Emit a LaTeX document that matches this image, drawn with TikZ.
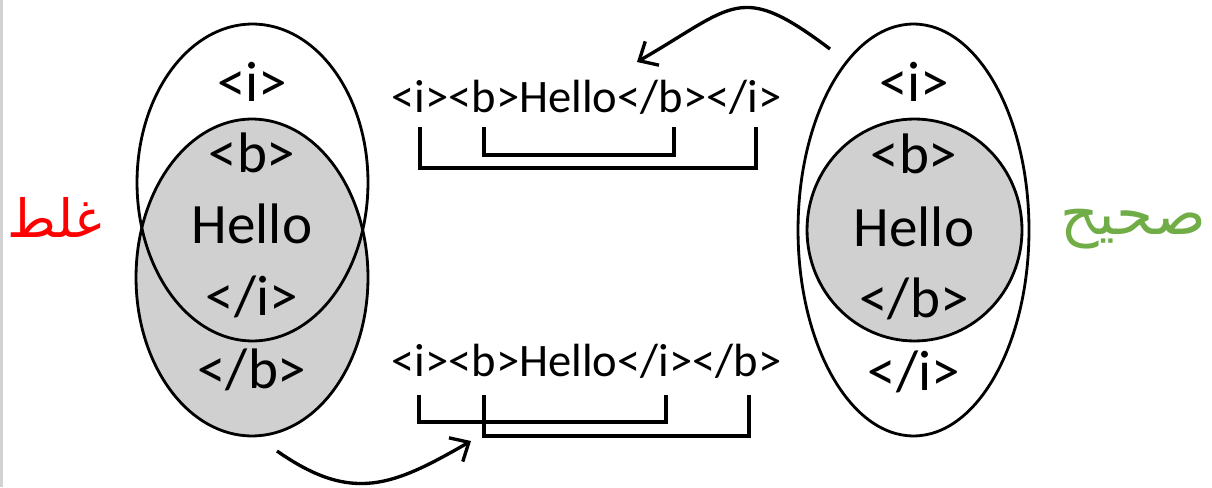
\documentclass[tikz,border=0pt]{standalone}
\usepackage{fontspec}
\setmainfont{Carlito}
\newfontfamily\arabicfont[Script=Arabic]{DejaVu Sans}
\TeXXeTstate=1
\usetikzlibrary{shapes.geometric,arrows.meta}
\definecolor{setgray}{RGB}{208,208,208}
\definecolor{okgreen}{RGB}{112,173,71}
\tikzstyle{set}=[ellipse,
                 draw,
                 line width=1.6pt,
                 inner sep=0pt]
\tikzstyle{tag}=[font=\fontsize{32.5}{36}\selectfont,
                 inner sep=0pt,
                 anchor=base]
\tikzstyle{code}=[font=\fontsize{26.5}{30}\selectfont,
                  inner sep=0pt,
                  anchor=base]
\tikzstyle{pair}=[line width=1.9pt]
\tikzstyle{flow}=[->,line width=1.9pt]
\tikzstyle{verdict}=[font=\fontsize{30}{34}\selectfont\arabicfont,
                     inner sep=0pt,
                     anchor=base]

\begin{document}
\begin{tikzpicture}[x=0.02cm,y=0.02cm,>={Straight Barb[length=3mm,width=5.5mm]}]
\useasboundingbox (0,0) rectangle (1212,487);
\draw[gray!35,line width=0.06cm] (1.5,0) -- (1.5,487);
% wrong nesting
\node (badb) [set,fill=setgray,minimum width=4.64cm,minimum height=6.34cm] at (252,209.5) {};
\node (badi) [set,minimum width=4.62cm,minimum height=6.34cm] at (252.5,304.5) {};
\node (badi1) [tag] at (252,385) {<i>};
\node (badb1) [tag] at (252,314) {<b>};
\node (badhello) [tag] at (252,243) {Hello};
\node (badi2) [tag] at (252,172) {</i>};
\node (badb2) [tag] at (252,99) {</b>};
% right nesting
\node (goodi) [set,minimum width=4.62cm,minimum height=8.24cm] at (913.5,257) {};
\node (goodb) [set,fill=setgray,minimum width=4.30cm,minimum height=4.44cm] at (914.5,257) {};
\node (goodi1) [tag] at (914,385) {<i>};
\node (goodb1) [tag] at (914,313) {<b>};
\node (goodhello) [tag] at (914,240) {Hello};
\node (goodb2) [tag] at (914,170) {</b>};
\node (goodi2) [tag] at (914,97) {</i>};
% code lines
\node (goodcode) [code] at (586.5,374) {<i><b>Hello</b></i>};
\node (badcode) [code] at (586.5,111) {<i><b>Hello</i></b>};
\coordinate (gi1) at (420,360);
\coordinate (gi2) at (756,360);
\coordinate (gb1) at (484,360);
\coordinate (gb2) at (674,360);
\draw[pair] (gi1) -- ++(0,-41) -| (gi2);
\draw[pair] (gb1) -- ++(0,-28) -| (gb2);
\coordinate (bi1) at (419,92);
\coordinate (bi2) at (666,92);
\coordinate (bb1) at (484,92);
\coordinate (bb2) at (749,92);
\draw[pair] (bi1) -- ++(0,-27) -| (bi2);
\draw[pair] (bb1) -- ++(0,-41) -| (bb2);
% arrows
\coordinate (goodfrom) at (830,438);
\coordinate (goodto) at (637,425);
\coordinate (badfrom) at (277,36);
\coordinate (badto) at (471,46);
\draw[flow] (goodfrom) to[out=143,in=30,looseness=1.5] (goodto);
\draw[flow] (badfrom) to[out=-35,in=-150,looseness=1.2] (badto);
% labels
\node (wrong) [verdict,text=red] at (55,249) {\beginR غلط\endR};
\node (right) [verdict,text=okgreen,font=\fontsize{34}{38}\selectfont\arabicfont] at (1133,253) {\beginR صحيح\endR};
\end{tikzpicture}
\end{document}
